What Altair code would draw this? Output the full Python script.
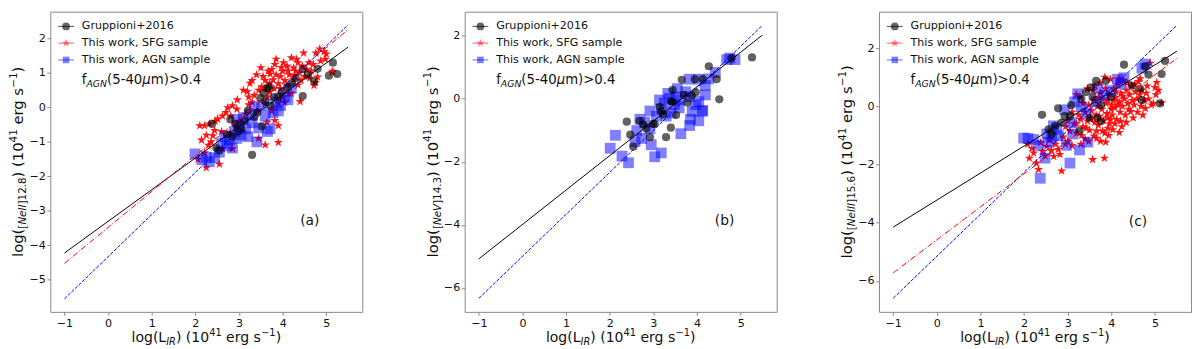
import altair as alt
import pandas as pd

FONT = "DejaVu Sans"
SERIES = ["Gruppioni+2016", "This work, SFG sample", "This work, AGN sample"]
SERIES_COLORS = ["rgba(0,0,0,0.62)", "rgba(255,0,0,0.92)", "rgba(0,0,255,0.5)"]
LEGEND_COLORS = ["rgba(0,0,0,0.6)", "rgba(255,0,0,0.5)", "rgba(0,0,255,0.5)"]
SERIES_SIZE = [70, 120, 58]
STAR = ("M0,-1L0.2245,-0.309L0.951,-0.309L0.363,0.118L0.588,0.809L0,0.382"
        "L-0.588,0.809L-0.363,0.118L-0.951,-0.309L-0.2245,-0.309Z")
SERIES_SHAPES = ["circle", STAR, "square"]

X_DOMAIN = [-1.325, 5.825]
X_TICKS = [-1, 0, 1, 2, 3, 4, 5]
FIT_X = [-1.0, 5.5]

# ---------------- panel (a): [NeII]12.8 ----------------
A_Y_DOMAIN = [-5.94, 2.78]
A_Y_TICKS = [-5, -4, -3, -2, -1, 0, 1, 2]
A_FIT_BLACK = [-4.23, 1.75]
A_FIT_RED = [-4.53, 2.26]
A_FIT_BLUE = [-5.56, 2.40]
A_GRP = [(2.38, -0.48), (2.48, -1.18), (2.55, -1.25), (2.72, -0.78), (2.80, -0.35), (2.85, -0.85),
         (2.92, -0.48), (2.98, -0.70), (3.05, -0.62), (3.12, -0.40), (3.20, -0.10), (3.30, -1.38),
         (3.35, -0.28), (3.42, -0.15), (3.49, 0.27), (3.52, -0.55), (3.56, 0.42), (3.60, 0.18),
         (3.65, 0.55), (3.69, 0.60), (3.72, 0.05), (3.80, 0.30), (3.90, 0.31), (3.98, 0.45),
         (4.10, 0.58), (4.20, 0.70), (4.30, 0.85), (4.46, 0.33), (4.46, 1.11), (4.58, 0.95),
         (4.72, 0.76), (4.80, 1.12), (5.06, 0.92), (5.15, 1.30), (5.25, 0.97)]
A_AGN = [(1.99, -1.35), (2.15, -1.52), (2.25, -1.45), (2.32, -1.58), (2.44, -1.46), (2.55, -1.30),
         (2.60, -1.05), (2.68, -0.85), (2.72, -1.12), (2.78, -0.95), (2.85, -1.18), (2.90, -0.70),
         (2.95, -0.90), (3.00, -0.55), (3.05, -0.80), (3.10, -0.30), (3.15, -0.62), (3.20, -0.85),
         (3.25, -0.20), (3.30, -0.45), (3.41, -1.00), (3.45, -0.60), (3.52, 0.05), (3.60, -0.25),
         (3.65, -0.70), (3.71, -0.62), (3.78, -0.15), (3.85, 0.15), (3.95, 0.05), (4.05, 0.30),
         (4.12, 0.22), (4.20, 0.55), (3.35, 0.00), (3.90, -0.10), (2.95, -0.35)]
A_SFG = [(4.48, 1.58), (4.76, 1.58), (4.95, 1.62), (5.13, 1.02), (4.72, 0.64), (4.80, 0.88),
         (4.65, 1.06), (4.35, 1.30), (4.20, 1.44), (3.97, 1.16), (3.71, 0.97), (3.67, 1.06),
         (3.82, 1.25), (4.12, 1.06), (4.27, 0.92), (4.42, 0.78), (4.05, 0.78), (3.90, 0.69),
         (3.78, 0.80), (3.60, 0.78), (3.52, 0.60), (3.45, 0.50), (3.30, 0.78), (3.25, 0.70),
         (3.19, 0.46), (3.22, 0.30), (3.70, 0.45), (4.20, 0.41), (3.90, 0.13), (4.00, 0.30),
         (3.60, 0.10), (3.41, -0.11), (3.22, 0.08), (2.96, 0.22), (2.85, 0.05), (2.74, -0.01),
         (2.81, -0.25), (2.62, -0.25), (2.51, -0.34), (2.45, -0.40), (2.32, -0.48), (2.21, -0.53),
         (2.10, -0.53), (2.44, -0.67), (2.25, -0.81), (2.40, -0.82), (2.14, -0.95), (2.36, -1.00),
         (2.70, -0.15), (2.95, -0.05), (3.00, -0.40), (3.64, -0.43), (3.82, -0.38), (3.90, -0.53),
         (3.45, -0.90), (3.60, -1.09), (3.90, -1.02), (2.80, -0.75), (2.62, -1.20), (2.85, -1.20),
         (2.21, -1.32), (2.06, -1.51), (2.25, -1.75), (2.55, -1.65), (3.55, 0.90), (3.75, 1.10),
         (3.85, 0.95), (3.95, 0.90), (4.02, 1.30), (4.10, 1.20), (4.15, 0.95), (4.25, 1.15),
         (4.30, 1.05), (4.38, 1.00), (4.45, 1.20), (4.55, 1.10), (4.60, 1.30), (4.50, 0.90),
         (4.62, 0.85), (4.85, 1.70), (4.87, 1.35), (4.98, 1.40), (5.15, 1.05), (4.75, 0.72),
         (4.40, 0.17), (4.05, 0.15), (3.80, 0.55), (3.65, 0.30), (3.35, 0.35), (3.10, 0.50),
         (3.40, 0.95), (3.50, 1.15), (3.85, 1.40), (4.00, 1.05), (3.95, 0.55), (4.10, 0.65),
         (4.35, 0.65), (4.25, 0.80), (3.70, 0.70), (3.58, 0.55), (3.30, 0.15), (3.15, -0.20),
         (2.92, -0.55), (2.60, -0.70), (2.30, -1.10), (3.75, -0.10), (4.15, 0.40), (4.32, 1.40),
         (4.70, 1.25), (5.00, 1.55)]

# ---------------- panel (b): [NeV]14.3 ----------------
B_Y_DOMAIN = [-6.76, 2.76]
B_Y_TICKS = [-6, -4, -2, 0, 2]
B_FIT_BLACK = [-5.08, 2.02]
B_FIT_BLUE = [-6.33, 2.33]
B_GRP = [(2.39, -0.73), (2.47, -1.14), (2.54, -1.52), (2.68, -0.70), (2.77, -0.82), (2.84, -0.95),
         (2.92, -1.22), (2.99, -0.80), (3.03, -0.80), (3.14, -0.26), (3.18, -0.40), (3.22, -0.50),
         (3.29, -1.22), (3.40, -0.92), (3.40, -0.08), (3.44, 0.28), (3.44, -0.10), (3.52, -0.52),
         (3.65, 0.60), (3.70, 0.12), (3.78, -0.12), (3.88, 0.10), (3.95, 0.62), (3.97, 0.20),
         (4.13, 0.62), (4.27, 1.03), (4.45, 0.62), (4.51, -0.02), (4.79, 1.29), (5.26, 1.31)]
B_AGN = [(2.01, -1.57), (2.13, -1.16), (2.28, -1.82), (2.43, -2.03), (2.58, -1.36), (2.62, -1.01),
         (2.73, -1.26), (2.80, -0.75), (2.92, -0.95), (2.92, -0.39), (2.95, -1.46), (3.03, -1.84),
         (3.07, -0.55), (3.18, -1.72), (3.14, -0.04), (3.25, -0.14), (3.33, 0.17), (3.37, 0.01),
         (3.48, -0.19), (3.40, -0.45), (3.59, -0.04), (3.59, -0.29), (3.55, 0.32), (3.63, -1.11),
         (3.74, 0.22), (3.82, 0.06), (3.89, -0.40), (3.85, -0.65), (3.97, -0.19), (4.04, -0.70),
         (4.04, -0.09), (4.12, -0.40), (4.19, 0.12), (4.19, 0.42), (4.27, 0.63), (4.42, 0.83),
         (4.68, 1.24), (4.87, 1.24), (4.75, 1.29), (3.82, 0.62), (4.04, 0.62), (3.29, -0.55),
         (3.52, 0.06), (2.69, -0.65), (3.18, -0.34), (3.83, -0.85), (4.13, -0.37)]

# ---------------- panel (c): [NeIII]15.6 ----------------
C_Y_DOMAIN = [-7.06, 3.25]
C_Y_TICKS = [-6, -4, -2, 0, 2]
C_FIT_BLACK = [-4.15, 1.89]
C_FIT_RED = [-5.72, 1.65]
C_FIT_BLUE = [-6.59, 2.78]
C_GRP = [(5.23, 1.56), (5.15, 1.11), (5.11, 0.10), (4.85, 1.09), (4.78, 1.37), (4.29, 1.43),
         (4.70, 0.21), (4.47, 0.71), (3.99, 0.32), (3.76, 0.04), (3.65, 0.87), (3.53, 0.65),
         (3.42, 0.49), (3.31, 0.26), (3.50, -0.40), (3.27, -0.84), (3.08, 0.04), (3.05, -0.34),
         (2.86, -0.56), (2.71, -0.67), (2.63, -0.95), (2.41, -0.29), (2.78, -0.07), (3.76, -0.51),
         (2.93, -0.34), (2.56, -0.79), (3.87, 0.87), (3.57, 0.32), (3.68, -0.40), (4.66, 0.60)]
C_AGN = [(2.09, -1.10), (2.22, -1.14), (2.37, -2.47), (2.33, -1.34), (2.48, -1.78), (2.56, -1.23),
         (2.63, -1.06), (2.75, -0.79), (2.78, -1.01), (2.93, -0.12), (2.97, -1.34), (3.05, -1.95),
         (3.08, -0.56), (3.16, 0.15), (3.23, 0.43), (3.27, -1.50), (3.31, -0.01), (3.42, -0.23),
         (3.46, -1.23), (3.65, 0.15), (3.69, 0.60), (3.84, 0.38), (3.99, 0.54), (4.21, 0.76),
         (4.29, 0.98), (4.70, 1.31), (4.78, 1.45), (2.67, -0.67), (2.52, -0.95), (3.12, -0.95),
         (4.14, 0.93), (1.99, -1.09)]
C_SFG = [(2.08, -1.30), (2.12, -1.78), (2.18, -1.45), (2.22, -1.60), (2.28, -1.95), (2.33, -2.17),
         (2.38, -1.25), (2.42, -1.55), (2.48, -1.70), (2.52, -1.38), (2.58, -1.15), (2.62, -1.52),
         (2.68, -1.72), (2.72, -1.30), (2.78, -1.48), (2.86, -2.22), (2.82, -1.65), (2.90, -1.05),
         (2.95, -1.30), (3.00, -1.20), (3.05, -0.85), (3.10, -1.35), (3.15, -0.60), (3.20, -0.92),
         (3.25, -0.30), (3.30, -1.30), (3.35, -0.70), (3.40, -1.12), (3.45, -0.50), (3.50, -0.82),
         (3.57, -1.83), (3.60, -1.02), (3.65, -0.30), (3.70, -0.65), (3.75, -1.20), (3.84, -1.78),
         (3.85, -0.92), (3.87, -1.23), (3.90, -0.40), (3.92, -0.75), (3.20, 0.40), (3.28, 0.32),
         (3.35, 0.10), (3.40, -0.20), (3.48, 0.05), (3.55, -0.15), (3.60, 0.20), (3.62, -0.55),
         (3.68, 0.00), (3.72, -0.35), (3.75, 0.45), (3.78, -0.10), (3.80, 0.25), (3.82, -0.50),
         (3.85, 1.00), (3.88, 0.10), (3.90, -0.25), (3.95, 0.40), (3.96, -0.60), (3.98, 0.93),
         (4.00, 0.05), (4.02, -0.30), (4.05, 0.60), (4.08, -0.05), (4.10, 0.30), (4.12, -0.45),
         (4.15, 0.75), (4.18, 0.15), (4.20, -0.20), (4.21, -0.51), (4.22, 0.45), (4.25, 0.00),
         (4.28, 0.90), (4.30, 0.25), (4.32, -0.30), (4.35, 0.55), (4.38, 0.10), (4.40, -0.10),
         (4.42, 0.40), (4.44, -0.18), (4.46, 0.70), (4.48, 0.20), (4.50, -0.40), (4.52, 0.05),
         (4.55, 0.50), (4.58, 0.25), (4.60, -0.20), (4.62, 0.85), (4.65, 0.40), (4.68, 0.00),
         (4.70, 0.55), (4.72, -0.30), (4.75, 0.20), (4.78, -0.07), (4.80, 0.45), (4.82, 0.70),
         (4.85, 0.25), (4.89, 1.48), (4.92, 0.05), (4.96, 0.10), (5.00, 0.65), (5.02, 0.40),
         (5.04, 0.82), (5.08, 0.55), (5.15, 0.12), (3.30, -0.45), (3.42, -0.75), (3.52, -0.40),
         (3.58, 0.55), (3.66, -0.85), (3.74, 0.80), (3.86, 0.60), (3.94, -1.00), (4.03, -0.80),
         (4.06, 0.20), (4.14, 0.05), (4.24, -0.70), (4.34, -0.55), (4.16, 0.95), (3.70, 0.30),
         (3.92, 0.20), (4.00, -0.10), (4.10, 0.50), (4.26, 0.35), (4.36, 0.80), (4.54, 0.75),
         (4.66, 0.95), (3.45, 0.60), (3.62, 0.70), (3.10, -0.20), (3.00, -0.50), (2.95, -0.70),
         (3.20, -0.60), (3.32, -1.00), (3.48, -1.20), (3.66, -1.10), (3.80, -0.85), (3.98, -0.45),
         (4.08, -0.60), (4.18, -0.90)]

PANEL_LABELS = ["(a)", "(b)", "(c)"]
LABEL_POS = [(4.62, -3.31), (4.63, -3.88), (4.61, -3.96)]
Y_LINES = ["[NeII]12.8", "[NeV]14.3", "[NeIII]15.6"]

# ---------------- layout (pixels) ----------------
W, H = 317, 305
TEXT = "#111111"
FRAME = "#888888"
LEG_SYMBOL_X = 16
LEG_LABEL_X = 32
LEG_ROWS = [15, 32, 49]
LEG_SIZES = [62, 80, 45]
FAGN_BASELINE = 73.5

# DejaVu Sans advance widths (em), used to set the pieces of the mathtext-like titles
CW = {' ': 0.318, '(': 0.390, ')': 0.390, '[': 0.390, ']': 0.390, '.': 0.318, '-': 0.361,
      '\u2212': 0.838, '+': 0.838, '>': 0.838, 'l': 0.278, 'o': 0.612, 'g': 0.635, 'e': 0.615,
      'r': 0.411, 's': 0.521, 'm': 0.974, 'f': 0.352, '\u03bc': 0.636, 'L': 0.557, 'I': 0.295,
      'R': 0.695, 'N': 0.748, 'V': 0.684, 'A': 0.684, 'G': 0.775}
for d in "0123456789":
    CW[d] = 0.636

ONE = pd.DataFrame({"k": [0]})


def tw(s):
    return sum(CW.get(c, 0.6) for c in s)


def rich(segs, base, x, y, angle=0, center=True):
    total = sum(tw(t) * base * sc for t, sc, it, sh in segs)
    pos = -total / 2 if center else 0.0
    out = []
    for t, sc, it, sh in segs:
        lead = len(t) - len(t.lstrip(" "))
        start = pos + tw(" " * lead) * base * sc
        kw = dict(text=t.strip(" "), fontSize=base * sc, font=FONT, color=TEXT,
                  fontStyle="italic" if it else "normal", align="left",
                  baseline="alphabetic", dx=start, dy=-sh * base)
        if angle:
            kw["angle"] = angle
        out.append(alt.Chart(ONE).mark_text(**kw).encode(x=alt.value(x), y=alt.value(y)))
        pos += tw(t) * base * sc
    return out


def y_title_segs(line):
    br = line.index("]")
    name = line[1:br]
    rest = line[br:]
    return [("log(", 1, False, 0), ("[", 0.7, False, -0.2), (name, 0.7, True, -0.2),
            (rest, 0.7, False, -0.2), (") (10", 1, False, 0), ("41", 0.7, False, 0.45),
            (" erg s", 1, False, 0), ("\u22121", 0.7, False, 0.45), (")", 1, False, 0)]


X_TITLE = [("log(L", 1, False, 0), ("IR", 0.7, True, -0.2), (") (10", 1, False, 0),
           ("41", 0.7, False, 0.45), (" erg s", 1, False, 0), ("\u22121", 0.7, False, 0.45),
           (")", 1, False, 0)]
FAGN = [("f", 1, False, 0), ("AGN", 0.7, True, -0.2), ("(5-40", 1, False, 0),
        ("\u03bc", 1, True, 0), ("m)>0.4", 1, False, 0)]


def xenc():
    return alt.X("x:Q", scale=alt.Scale(domain=X_DOMAIN, nice=False, zero=False),
                 axis=alt.Axis(values=X_TICKS, format="d", title=None, labelPadding=2.5))


def yenc(dom, ticks):
    return alt.Y("y:Q", scale=alt.Scale(domain=dom, nice=False, zero=False),
                 axis=alt.Axis(values=ticks, format="d", title=None, labelPadding=1.5))


def legend_layers():
    out = []
    for i, name in enumerate(SERIES):
        yv = LEG_ROWS[i]
        out.append(alt.Chart(ONE).mark_rule(color=LEGEND_COLORS[i], strokeWidth=1.2).encode(
            x=alt.value(LEG_SYMBOL_X - 8), x2=alt.value(LEG_SYMBOL_X + 8), y=alt.value(yv)))
        out.append(alt.Chart(ONE).mark_point(filled=True, strokeWidth=0, opacity=1,
                                             shape=SERIES_SHAPES[i], size=LEG_SIZES[i],
                                             color=LEGEND_COLORS[i]).encode(
            x=alt.value(LEG_SYMBOL_X), y=alt.value(yv)))
        out.append(alt.Chart(ONE).mark_text(text=name, font=FONT, fontSize=11.3, color=TEXT,
                                            align="left", baseline="middle").encode(
            x=alt.value(LEG_LABEL_X), y=alt.value(yv)))
    return out


def panel(idx, grp, sfg, agn, fits, ydom, yticks):
    rows = []
    for name, pts in [(SERIES[1], sfg), (SERIES[2], agn), (SERIES[0], grp)]:
        for x, y in pts:
            rows.append({"x": x, "y": y, "series": name})
    df = pd.DataFrame(rows)
    pts = alt.Chart(df).mark_point(filled=True, strokeWidth=0, opacity=1).encode(
        x=xenc(), y=yenc(ydom, yticks),
        color=alt.Color("series:N", scale=alt.Scale(domain=SERIES, range=SERIES_COLORS), legend=None),
        shape=alt.Shape("series:N", scale=alt.Scale(domain=SERIES, range=SERIES_SHAPES), legend=None),
        size=alt.Size("series:N", scale=alt.Scale(domain=SERIES, range=SERIES_SIZE), legend=None),
    )
    layers = [pts]
    styles = {"black": dict(color="#000000", strokeWidth=1),
              "red": dict(color="#ff0000", strokeWidth=1, strokeDash=[6, 2, 1, 2]),
              "blue": dict(color="#0000ff", strokeWidth=1, strokeDash=[3.5, 1.5])}
    for key, ys in fits:
        ldf = pd.DataFrame({"x": FIT_X, "y": ys})
        layers.append(alt.Chart(ldf).mark_line(**styles[key]).encode(x=xenc(), y=yenc(ydom, yticks)))
    lx, ly = LABEL_POS[idx]
    ldf = pd.DataFrame({"x": [lx], "y": [ly], "t": [PANEL_LABELS[idx]]})
    layers.append(alt.Chart(ldf).mark_text(font=FONT, fontSize=14, color=TEXT, align="center",
                                           baseline="middle").encode(
        x=xenc(), y=yenc(ydom, yticks), text="t:N"))
    layers += legend_layers()
    layers += rich(X_TITLE, 14.25, W / 2, H + 30.7)
    layers += rich(y_title_segs(Y_LINES[idx]), 15, -27.3, H / 2, angle=270)
    layers += rich(FAGN, 13.5, LEG_LABEL_X, FAGN_BASELINE, center=False)
    return alt.layer(*layers).properties(width=W, height=H)


pa = panel(0, A_GRP, A_SFG, A_AGN,
           [("black", A_FIT_BLACK), ("red", A_FIT_RED), ("blue", A_FIT_BLUE)], A_Y_DOMAIN, A_Y_TICKS)
pb = panel(1, B_GRP, [], B_AGN,
           [("black", B_FIT_BLACK), ("blue", B_FIT_BLUE)], B_Y_DOMAIN, B_Y_TICKS)
pc = panel(2, C_GRP, C_SFG, C_AGN,
           [("black", C_FIT_BLACK), ("red", C_FIT_RED), ("blue", C_FIT_BLUE)], C_Y_DOMAIN, C_Y_TICKS)

chart = alt.hconcat(pa, pb, pc, spacing=60).resolve_scale(
    x="independent", y="independent", color="independent", shape="independent",
    size="independent"
).properties(
    padding={"left": 0, "top": 0, "right": 0, "bottom": 0}
).configure_view(stroke=FRAME, strokeWidth=1).configure_axis(
    grid=False, domain=False, tickColor=FRAME, tickSize=3.5, tickWidth=1,
    labelFont=FONT, labelFontSize=11.3, labelColor=TEXT
)

chart.save("out.html", embed_options={"renderer": "svg", "actions": False})
